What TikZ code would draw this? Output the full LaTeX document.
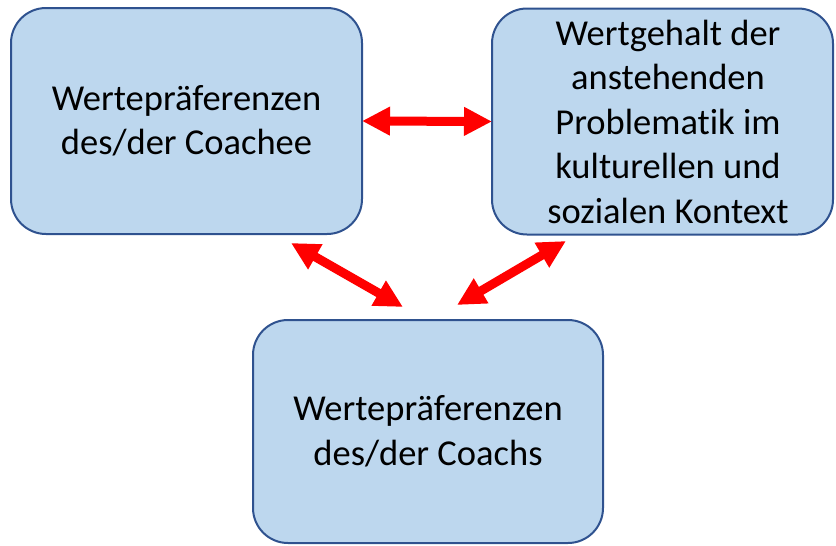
\documentclass[tikz,border=0pt]{standalone}
\usepackage{fontspec}
\setmainfont[Ligatures=NoCommon]{Carlito}
\usetikzlibrary{arrows.meta}
\definecolor{boxfill}{HTML}{BDD7EE}
\definecolor{boxline}{HTML}{2F528F}
\definecolor{arrred}{HTML}{FF0000}
\tikzset{
  box/.style={draw=boxline, fill=boxfill, line width=2pt, rounded corners=35pt,
    align=center, font=\fontsize{36.5}{44.5}\selectfont, inner sep=0pt, outer sep=0pt},
  dbl/.style={draw=arrred, line width=9pt,
    {Triangle[length=28pt,width=27pt]}-{Triangle[length=28pt,width=27pt]}}
}
\newcommand{\sh}{\hspace*{11pt}}
\begin{document}
\begin{tikzpicture}[x=1pt,y=-1pt]
\useasboundingbox (0,0) rectangle (836,546);
\node[box, minimum width=351pt, minimum height=226pt] (b1) at (186.5,121) {Wertepräferenzen\\des/der Coachee};
\node[box, minimum width=341pt, minimum height=226pt] (b2) at (662.5,121.5) {\sh Wertgehalt der\\\sh anstehenden\\\sh Problematik im\\\sh kulturellen und\\\sh sozialen Kontext};
\node[box, minimum width=350pt, minimum height=223pt] (b3) at (428,431.5) {Wertepräferenzen\\des/der Coachs};
\coordinate (p1) at (291,243);
\coordinate (p2) at (403,307);
\coordinate (p3) at (566,241);
\coordinate (p4) at (457,305);
\draw[dbl] (b1.east) -- (b2.west);
\draw[dbl] (p1) -- (p2);
\draw[dbl] (p3) -- (p4);
\end{tikzpicture}
\end{document}
